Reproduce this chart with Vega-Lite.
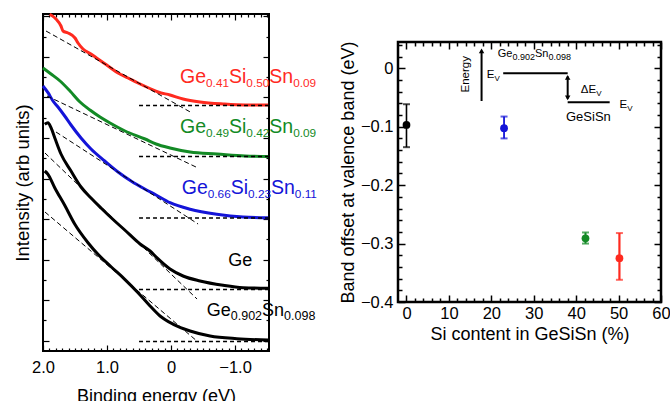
{
  "$schema": "https://vega.github.io/schema/vega-lite/v6.json",
  "padding": {"left": 12, "top": 7, "right": 5, "bottom": 0},
  "config": {
    "font": "Liberation Sans",
    "view": {"stroke": "black", "strokeWidth": 2},
    "axis": {"grid": false, "domain": false, "labelColor": "black", "titleColor": "black", "tickColor": "black", "titleFontWeight": "normal", "labelFlush": false, "labelOverlap": false}
  },
  "datasets": {
    "curves": [
      {"s": "red", "be": 1.895, "i": 336.7}, {"s": "red", "be": 1.797, "i": 332}, {"s": "red", "be": 1.719, "i": 325}, {"s": "red", "be": 1.6875, "i": 320}, {"s": "red", "be": 1.609, "i": 318}, {"s": "red", "be": 1.5, "i": 313}, {"s": "red", "be": 1.453, "i": 308}, {"s": "red", "be": 1.375, "i": 302}, {"s": "red", "be": 1.25, "i": 297}, {"s": "red", "be": 1.141, "i": 292}, {"s": "red", "be": 0.984, "i": 285}, {"s": "red", "be": 0.828, "i": 278}, {"s": "red", "be": 0.672, "i": 273}, {"s": "red", "be": 0.516, "i": 268}, {"s": "red", "be": 0.3125, "i": 262}, {"s": "red", "be": 0.203, "i": 259}, {"s": "red", "be": 0.016, "i": 256}, {"s": "red", "be": -0.1875, "i": 252}, {"s": "red", "be": -0.453, "i": 249}, {"s": "red", "be": -0.8125, "i": 247}, {"s": "red", "be": -1.156, "i": 246}, {"s": "red", "be": -1.516, "i": 246},
      {"s": "green", "be": 2.0, "i": 283}, {"s": "green", "be": 1.875, "i": 277}, {"s": "green", "be": 1.734, "i": 270}, {"s": "green", "be": 1.578, "i": 260}, {"s": "green", "be": 1.422, "i": 249}, {"s": "green", "be": 1.266, "i": 241}, {"s": "green", "be": 1.109, "i": 234}, {"s": "green", "be": 0.953, "i": 228}, {"s": "green", "be": 0.719, "i": 220}, {"s": "green", "be": 0.406, "i": 212}, {"s": "green", "be": 0.234, "i": 207}, {"s": "green", "be": 0.016, "i": 203}, {"s": "green", "be": -0.297, "i": 199}, {"s": "green", "be": -0.719, "i": 197}, {"s": "green", "be": -1.156, "i": 195}, {"s": "green", "be": -1.516, "i": 194.5},
      {"s": "blue", "be": 2.0, "i": 265}, {"s": "blue", "be": 1.922, "i": 258.3}, {"s": "blue", "be": 1.844, "i": 250}, {"s": "blue", "be": 1.766, "i": 244}, {"s": "blue", "be": 1.661, "i": 235}, {"s": "blue", "be": 1.5625, "i": 226}, {"s": "blue", "be": 1.406, "i": 213}, {"s": "blue", "be": 1.25, "i": 202}, {"s": "blue", "be": 1.036, "i": 190}, {"s": "blue", "be": 0.828, "i": 179}, {"s": "blue", "be": 0.625, "i": 170}, {"s": "blue", "be": 0.411, "i": 162}, {"s": "blue", "be": 0.234, "i": 156}, {"s": "blue", "be": 0.016, "i": 148.3}, {"s": "blue", "be": -0.297, "i": 141.7}, {"s": "blue", "be": -0.714, "i": 136.7}, {"s": "blue", "be": -1.125, "i": 134}, {"s": "blue", "be": -1.516, "i": 133.3},
      {"s": "ge", "be": 1.973, "i": 226.7}, {"s": "ge", "be": 1.922, "i": 228.3}, {"s": "ge", "be": 1.875, "i": 223.3}, {"s": "ge", "be": 1.817, "i": 213.3}, {"s": "ge", "be": 1.719, "i": 197}, {"s": "ge", "be": 1.5625, "i": 180}, {"s": "ge", "be": 1.406, "i": 164}, {"s": "ge", "be": 1.25, "i": 153}, {"s": "ge", "be": 1.094, "i": 143}, {"s": "ge", "be": 0.88, "i": 130}, {"s": "ge", "be": 0.723, "i": 121}, {"s": "ge", "be": 0.484, "i": 107}, {"s": "ge", "be": 0.328, "i": 100}, {"s": "ge", "be": 0.223, "i": 93.3}, {"s": "ge", "be": 0.016, "i": 82}, {"s": "ge", "be": -0.1875, "i": 75}, {"s": "ge", "be": -0.453, "i": 70}, {"s": "ge", "be": -0.8125, "i": 65.7}, {"s": "ge", "be": -1.125, "i": 63.3}, {"s": "ge", "be": -1.516, "i": 62.7},
      {"s": "gesn", "be": 1.973, "i": 180}, {"s": "gesn", "be": 1.922, "i": 176.7}, {"s": "gesn", "be": 1.817, "i": 163.3}, {"s": "gesn", "be": 1.661, "i": 145.7}, {"s": "gesn", "be": 1.505, "i": 127}, {"s": "gesn", "be": 1.297, "i": 108.3}, {"s": "gesn", "be": 1.141, "i": 96.7}, {"s": "gesn", "be": 0.933, "i": 84}, {"s": "gesn", "be": 0.723, "i": 71.7}, {"s": "gesn", "be": 0.516, "i": 58.3}, {"s": "gesn", "be": 0.328, "i": 45}, {"s": "gesn", "be": 0.172, "i": 35}, {"s": "gesn", "be": -0.036, "i": 26.7}, {"s": "gesn", "be": -0.297, "i": 20}, {"s": "gesn", "be": -0.609, "i": 15}, {"s": "gesn", "be": -1.027, "i": 12.3}, {"s": "gesn", "be": -1.516, "i": 11}
    ],
    "dashes": [
      {"id": "t_red", "k": "t", "be": 1.953, "i": 320}, {"id": "t_red", "k": "t", "be": -0.328, "i": 238},
      {"id": "t_green", "k": "t", "be": 1.9375, "i": 255}, {"id": "t_green", "k": "t", "be": -0.422, "i": 183},
      {"id": "t_blue", "k": "t", "be": 1.797, "i": 219}, {"id": "t_blue", "k": "t", "be": -0.422, "i": 127},
      {"id": "t_ge", "k": "t", "be": 1.969, "i": 198}, {"id": "t_ge", "k": "t", "be": -0.406, "i": 52},
      {"id": "t_gesn", "k": "t", "be": 1.969, "i": 139}, {"id": "t_gesn", "k": "t", "be": -0.422, "i": 9},
      {"id": "b_red", "k": "b", "be": 0.5, "i": 245.5}, {"id": "b_red", "k": "b", "be": -1.53, "i": 245.5},
      {"id": "b_green", "k": "b", "be": 0.5, "i": 194.5}, {"id": "b_green", "k": "b", "be": -1.53, "i": 194.5},
      {"id": "b_blue", "k": "b", "be": 0.5, "i": 133}, {"id": "b_blue", "k": "b", "be": -1.53, "i": 133},
      {"id": "b_ge", "k": "b", "be": 0.5, "i": 61.5}, {"id": "b_ge", "k": "b", "be": -1.53, "i": 61.5},
      {"id": "b_gesn", "k": "b", "be": 0.5, "i": 9.5}, {"id": "b_gesn", "k": "b", "be": -1.53, "i": 9.5}
    ],
    "labels": [
      {"s": "red", "be": -0.1406, "i": 268, "a": "Ge", "b": "0.41", "c": "Si", "d": "0.50", "e": "Sn", "f": "0.09"},
      {"s": "green", "be": -0.1406, "i": 217.7, "a": "Ge", "b": "0.49", "c": "Si", "d": "0.42", "e": "Sn", "f": "0.09"},
      {"s": "blue", "be": -0.167, "i": 156.7, "a": "Ge", "b": "0.66", "c": "Si", "d": "0.23", "e": "Sn", "f": "0.11"}
    ],
    "blabels": [
      {"be": -0.895, "i": 85, "a": "Ge"},
      {"be": -0.558, "i": 35, "a": "Ge", "b": "0.902", "c": "Sn", "d": "0.098"}
    ],
    "pts": [
      {"s": "ge", "si": 0, "v": -0.097, "lo": -0.135, "hi": -0.0615},
      {"s": "blue", "si": 23.0, "v": -0.1026, "lo": -0.12, "hi": -0.0826},
      {"s": "green", "si": 42.2, "v": -0.291, "lo": -0.3, "hi": -0.281},
      {"s": "red", "si": 50.2, "v": -0.325, "lo": -0.362, "hi": -0.282}
    ],
    "inset": [
      {"g": "energy", "x": 17.7, "y": -0.056}, {"g": "energy", "x": 17.7, "y": 0.03},
      {"g": "upper", "x": 22.8, "y": -0.0085}, {"g": "upper", "x": 38.0, "y": -0.0085},
      {"g": "dv", "x": 38.0, "y": -0.014}, {"g": "dv", "x": 38.0, "y": -0.052},
      {"g": "lower", "x": 38.0, "y": -0.058}, {"g": "lower", "x": 47.9, "y": -0.058}
    ],
    "heads": [
      {"x": 17.7, "y": 0.03, "dir": "up"},
      {"x": 38.0, "y": -0.0155, "dir": "up"},
      {"x": 38.0, "y": -0.0505, "dir": "down"}
    ],
    "itext": [
      {"k": "gesn", "x": 21.5, "y": 0.0188, "a": "Ge", "b": "0.902", "c": "Sn", "d": "0.098"},
      {"k": "ev", "x": 18.9, "y": -0.0159, "a": "E", "b": "V"},
      {"k": "ev", "x": 50.2, "y": -0.0672, "a": "E", "b": "V"},
      {"k": "dev", "x": 41.1, "y": -0.0415, "a": "ΔE", "b": "V"},
      {"k": "gesisn", "x": 37.6, "y": -0.09, "a": "GeSiSn"},
      {"k": "energy", "x": 14.0, "y": -0.0103, "a": "Energy"}
    ]
  },
  "resolve": {"scale": {"x": "independent", "y": "independent"}},
  "spacing": 20,
  "hconcat": [
    {
      "width": 226,
      "height": 337,
      "view": {"stroke": "black", "strokeWidth": 2},
      "resolve": {"axis": {"x": "independent", "y": "independent"}},
      "layer": [
        {
          "data": {"name": "curves"},
          "mark": {"type": "line", "strokeWidth": 3, "interpolate": "monotone"},
          "encoding": {
            "x": {"field": "be", "type": "quantitative", "scale": {"domain": [-1.53, 2.0], "reverse": true, "nice": false, "zero": false},
              "axis": {"orient": "bottom", "values": [-1.5,-1.4,-1.3,-1.2,-1.1,-1,-0.9,-0.8,-0.7,-0.6,-0.5,-0.4,-0.3,-0.2,-0.1,0,0.1,0.2,0.3,0.4,0.5,0.6,0.7,0.8,0.9,1,1.1,1.2,1.3,1.4,1.5,1.6,1.7,1.8,1.9,2],
                "labelExpr": "abs(datum.value-round(datum.value))<0.001 ? (abs(datum.value)<0.001 ? '0' : format(datum.value,'.1f')) : ''",
                "tickSize": {"condition": {"test": "abs(datum.value-round(datum.value))<0.001", "value": -6}, "value": -3},
                "tickWidth": 1.2, "labelFontSize": 16.5, "labelPadding": 14, "title": "Binding energy (eV)", "titleFontSize": 18, "titlePadding": 9}},
            "y": {"field": "i", "type": "quantitative", "scale": {"domain": [0, 337], "nice": false, "zero": false},
              "axis": {"orient": "left", "values": [10.5,30.75,51,71.25,91.5,111.75,132,152.25,172.5,192.75,213,233.25,253.5,273.75,294,314.25,334.5],
                "labels": false,
                "tickSize": {"condition": {"test": "round((datum.value-10.5)/20.25)%2==0", "value": -6}, "value": -3},
                "tickWidth": 1.2, "title": "Intensity (arb units)", "titleFontSize": 18.5, "titlePadding": 10}},
            "color": {"field": "s", "type": "nominal", "scale": {"domain": ["red","green","blue","ge","gesn"], "range": ["#ff2a1f","#138a25","#1414d8","#000000","#000000"]}, "legend": null}
          }
        },
        {
          "data": {"name": "dashes"},
          "transform": [{"filter": "datum.k == 't'"}],
          "mark": {"type": "line", "color": "black", "strokeWidth": 1, "strokeDash": [5, 3]},
          "encoding": {
            "x": {"field": "be", "type": "quantitative", "scale": {"domain": [-1.53, 2.0], "reverse": true, "nice": false, "zero": false},
              "axis": {"orient": "top", "values": [-1.5,-1.4,-1.3,-1.2,-1.1,-1,-0.9,-0.8,-0.7,-0.6,-0.5,-0.4,-0.3,-0.2,-0.1,0,0.1,0.2,0.3,0.4,0.5,0.6,0.7,0.8,0.9,1,1.1,1.2,1.3,1.4,1.5,1.6,1.7,1.8,1.9,2],
                "labels": false, "title": null,
                "tickSize": {"condition": {"test": "abs(datum.value-round(datum.value))<0.001", "value": -6}, "value": -3},
                "tickWidth": 1.2}},
            "y": {"field": "i", "type": "quantitative", "scale": {"domain": [0, 337], "nice": false, "zero": false},
              "axis": {"orient": "right", "values": [10.5,30.75,51,71.25,91.5,111.75,132,152.25,172.5,192.75,213,233.25,253.5,273.75,294,314.25,334.5],
                "labels": false, "title": null,
                "tickSize": {"condition": {"test": "round((datum.value-10.5)/20.25)%2==0", "value": -6}, "value": -3},
                "tickWidth": 1.2}},
            "detail": {"field": "id"}
          }
        },
        {
          "data": {"name": "dashes"},
          "transform": [{"filter": "datum.k == 'b'"}],
          "mark": {"type": "line", "color": "black", "strokeWidth": 1.4, "strokeDash": [4, 3]},
          "encoding": {
            "x": {"field": "be", "type": "quantitative", "scale": {"domain": [-1.53, 2.0], "reverse": true, "nice": false, "zero": false}, "axis": null},
            "y": {"field": "i", "type": "quantitative", "scale": {"domain": [0, 337], "nice": false, "zero": false}, "axis": null},
            "detail": {"field": "id"}
          }
        },
        {
          "data": {"name": "labels"},
          "mark": {"type": "text", "align": "left", "baseline": "alphabetic", "fontSize": 19.5, "dx": 0},
          "encoding": {
            "x": {"field": "be", "type": "quantitative", "axis": null}, "y": {"field": "i", "type": "quantitative", "axis": null},
            "text": {"field": "a"}, "color": {"field": "s", "type": "nominal", "legend": null}
          }
        },
        {
          "data": {"name": "labels"},
          "mark": {"type": "text", "align": "left", "baseline": "alphabetic", "fontSize": 11.8, "dx": 26, "dy": 4},
          "encoding": {
            "x": {"field": "be", "type": "quantitative", "axis": null}, "y": {"field": "i", "type": "quantitative", "axis": null},
            "text": {"field": "b"}, "color": {"field": "s", "type": "nominal", "legend": null}
          }
        },
        {
          "data": {"name": "labels"},
          "mark": {"type": "text", "align": "left", "baseline": "alphabetic", "fontSize": 19.5, "dx": 49},
          "encoding": {
            "x": {"field": "be", "type": "quantitative", "axis": null}, "y": {"field": "i", "type": "quantitative", "axis": null},
            "text": {"field": "c"}, "color": {"field": "s", "type": "nominal", "legend": null}
          }
        },
        {
          "data": {"name": "labels"},
          "mark": {"type": "text", "align": "left", "baseline": "alphabetic", "fontSize": 11.8, "dx": 66.3, "dy": 4},
          "encoding": {
            "x": {"field": "be", "type": "quantitative", "axis": null}, "y": {"field": "i", "type": "quantitative", "axis": null},
            "text": {"field": "d"}, "color": {"field": "s", "type": "nominal", "legend": null}
          }
        },
        {
          "data": {"name": "labels"},
          "mark": {"type": "text", "align": "left", "baseline": "alphabetic", "fontSize": 19.5, "dx": 89.3},
          "encoding": {
            "x": {"field": "be", "type": "quantitative", "axis": null}, "y": {"field": "i", "type": "quantitative", "axis": null},
            "text": {"field": "e"}, "color": {"field": "s", "type": "nominal", "legend": null}
          }
        },
        {
          "data": {"name": "labels"},
          "mark": {"type": "text", "align": "left", "baseline": "alphabetic", "fontSize": 11.8, "dx": 113.1, "dy": 4},
          "encoding": {
            "x": {"field": "be", "type": "quantitative", "axis": null}, "y": {"field": "i", "type": "quantitative", "axis": null},
            "text": {"field": "f"}, "color": {"field": "s", "type": "nominal", "legend": null}
          }
        },
        {
          "data": {"name": "blabels"},
          "mark": {"type": "text", "align": "left", "baseline": "alphabetic", "fontSize": 18, "color": "black"},
          "encoding": {
            "x": {"field": "be", "type": "quantitative", "axis": null}, "y": {"field": "i", "type": "quantitative", "axis": null},
            "text": {"field": "a"}
          }
        },
        {
          "data": {"name": "blabels"},
          "transform": [{"filter": "datum.b != null"}],
          "mark": {"type": "text", "align": "left", "baseline": "alphabetic", "fontSize": 12.5, "dx": 24, "dy": 4, "color": "black"},
          "encoding": {
            "x": {"field": "be", "type": "quantitative", "axis": null}, "y": {"field": "i", "type": "quantitative", "axis": null},
            "text": {"field": "b"}
          }
        },
        {
          "data": {"name": "blabels"},
          "transform": [{"filter": "datum.b != null"}],
          "mark": {"type": "text", "align": "left", "baseline": "alphabetic", "fontSize": 18, "dx": 55.3, "color": "black"},
          "encoding": {
            "x": {"field": "be", "type": "quantitative", "axis": null}, "y": {"field": "i", "type": "quantitative", "axis": null},
            "text": {"field": "c"}
          }
        },
        {
          "data": {"name": "blabels"},
          "transform": [{"filter": "datum.b != null"}],
          "mark": {"type": "text", "align": "left", "baseline": "alphabetic", "fontSize": 12.5, "dx": 77.3, "dy": 4, "color": "black"},
          "encoding": {
            "x": {"field": "be", "type": "quantitative", "axis": null}, "y": {"field": "i", "type": "quantitative", "axis": null},
            "text": {"field": "d"}
          }
        }
      ]
    },
    {
      "spacing": 10,
      "vconcat": [
        {
          "width": 263,
          "height": 11,
          "view": {"stroke": null},
          "data": {"values": [{"t": ""}]},
          "mark": {"type": "text"},
          "encoding": {"text": {"field": "t"}}
        },
        {
          "width": 263,
          "height": 260,
          "view": {"stroke": "black", "strokeWidth": 2.5},
          "resolve": {"axis": {"x": "independent", "y": "independent"}},
          "layer": [
            {
              "data": {"name": "pts"},
              "mark": {"type": "rule"},
              "encoding": {
                "x": {"field": "si", "type": "quantitative", "scale": {"domain": [-2, 60], "nice": false, "zero": false},
                  "axis": {"orient": "bottom", "values": [0,2,4,6,8,10,12,14,16,18,20,22,24,26,28,30,32,34,36,38,40,42,44,46,48,50,52,54,56,58,60],
                    "labelExpr": "datum.value % 10 == 0 ? datum.label : ''",
                    "tickSize": {"condition": {"test": "datum.value % 10 == 0", "value": -7}, "value": -4},
                    "tickWidth": 1.5, "labelFontSize": 16.5, "labelPadding": 10, "title": "Si content in GeSiSn (%)", "titleFontSize": 18, "titlePadding": 1}},
                "y": {"field": "lo", "type": "quantitative", "scale": {"domain": [-0.4, 0.045], "nice": false, "zero": false},
                  "axis": {"orient": "left", "values": [-0.4,-0.38,-0.36,-0.34,-0.32,-0.3,-0.28,-0.26,-0.24,-0.22,-0.2,-0.18,-0.16,-0.14,-0.12,-0.1,-0.08,-0.06,-0.04,-0.02,0,0.02,0.04],
                    "labelExpr": "abs(datum.value*10-round(datum.value*10))<0.001 ? (abs(datum.value)<0.0001 ? '0' : format(datum.value,'.1f')) : ''",
                    "tickSize": {"condition": {"test": "abs(datum.value*10-round(datum.value*10))<0.001", "value": -7}, "value": -4},
                    "tickWidth": 1.5, "labelFontSize": 16.5, "labelPadding": 12, "title": "Band offset at valence band (eV)", "titleFontSize": 18, "titlePadding": 3}},
                "y2": {"field": "hi"},
                "color": {"field": "s", "type": "nominal", "scale": {"domain": ["red","green","blue","ge","gesn"], "range": ["#ff2a1f","#138a25","#1414d8","#000000","#000000"]}, "legend": null},
                "strokeWidth": {"field": "s", "type": "nominal", "scale": {"domain": ["ge","blue","green","red"], "range": [1.6, 2.2, 3, 3.2]}, "legend": null}
              }
            },
            {
              "data": {"name": "pts"},
              "mark": {"type": "tick", "orient": "horizontal", "size": 7, "thickness": 2},
              "encoding": {
                "x": {"field": "si", "type": "quantitative", "scale": {"domain": [-2, 60], "nice": false, "zero": false},
                  "axis": {"orient": "top", "values": [0,2,4,6,8,10,12,14,16,18,20,22,24,26,28,30,32,34,36,38,40,42,44,46,48,50,52,54,56,58,60],
                    "labels": false, "title": null,
                    "tickSize": {"condition": {"test": "datum.value % 10 == 0", "value": -7}, "value": -4},
                    "tickWidth": 1.5}},
                "y": {"field": "lo", "type": "quantitative", "scale": {"domain": [-0.4, 0.045], "nice": false, "zero": false},
                  "axis": {"orient": "right", "values": [-0.4,-0.38,-0.36,-0.34,-0.32,-0.3,-0.28,-0.26,-0.24,-0.22,-0.2,-0.18,-0.16,-0.14,-0.12,-0.1,-0.08,-0.06,-0.04,-0.02,0,0.02,0.04],
                    "labels": false, "title": null,
                    "tickSize": {"condition": {"test": "abs(datum.value*10-round(datum.value*10))<0.001", "value": -7}, "value": -4},
                    "tickWidth": 1.5}},
                "color": {"field": "s", "type": "nominal", "legend": null}
              }
            },
            {
              "data": {"name": "pts"},
              "mark": {"type": "tick", "orient": "horizontal", "size": 7, "thickness": 2},
              "encoding": {
                "x": {"field": "si", "type": "quantitative", "axis": null},
                "y": {"field": "hi", "type": "quantitative", "axis": null},
                "color": {"field": "s", "type": "nominal", "legend": null}
              }
            },
            {
              "data": {"name": "pts"},
              "mark": {"type": "circle", "size": 60, "opacity": 1},
              "encoding": {
                "x": {"field": "si", "type": "quantitative", "axis": null},
                "y": {"field": "v", "type": "quantitative", "axis": null},
                "color": {"field": "s", "type": "nominal", "legend": null}
              }
            },
            {
              "data": {"name": "inset"},
              "mark": {"type": "line", "color": "black", "strokeWidth": 2},
              "encoding": {
                "x": {"field": "x", "type": "quantitative", "axis": null},
                "y": {"field": "y", "type": "quantitative", "axis": null},
                "detail": {"field": "g"}
              }
            },
            {
              "data": {"name": "heads"},
              "mark": {"type": "point", "filled": true, "color": "black", "size": 30, "opacity": 1},
              "encoding": {
                "x": {"field": "x", "type": "quantitative", "axis": null},
                "y": {"field": "y", "type": "quantitative", "axis": null},
                "shape": {"field": "dir", "type": "nominal", "scale": {"domain": ["up", "down"], "range": ["triangle-up", "triangle-down"]}, "legend": null}
              }
            },
            {
              "data": {"name": "itext"},
              "transform": [{"filter": "datum.k == 'gesn'"}],
              "mark": {"type": "text", "align": "left", "baseline": "alphabetic", "fontSize": 11, "color": "black"},
              "encoding": {"x": {"field": "x", "type": "quantitative", "axis": null}, "y": {"field": "y", "type": "quantitative", "axis": null}, "text": {"field": "a"}}
            },
            {
              "data": {"name": "itext"},
              "transform": [{"filter": "datum.k == 'gesn'"}],
              "mark": {"type": "text", "align": "left", "baseline": "alphabetic", "fontSize": 9, "dx": 14.7, "dy": 3, "color": "black"},
              "encoding": {"x": {"field": "x", "type": "quantitative", "axis": null}, "y": {"field": "y", "type": "quantitative", "axis": null}, "text": {"field": "b"}}
            },
            {
              "data": {"name": "itext"},
              "transform": [{"filter": "datum.k == 'gesn'"}],
              "mark": {"type": "text", "align": "left", "baseline": "alphabetic", "fontSize": 11, "dx": 37.2, "color": "black"},
              "encoding": {"x": {"field": "x", "type": "quantitative", "axis": null}, "y": {"field": "y", "type": "quantitative", "axis": null}, "text": {"field": "c"}}
            },
            {
              "data": {"name": "itext"},
              "transform": [{"filter": "datum.k == 'gesn'"}],
              "mark": {"type": "text", "align": "left", "baseline": "alphabetic", "fontSize": 9, "dx": 50.7, "dy": 3, "color": "black"},
              "encoding": {"x": {"field": "x", "type": "quantitative", "axis": null}, "y": {"field": "y", "type": "quantitative", "axis": null}, "text": {"field": "d"}}
            },
            {
              "data": {"name": "itext"},
              "transform": [{"filter": "datum.k == 'ev' || datum.k == 'dev'"}],
              "mark": {"type": "text", "align": "left", "baseline": "alphabetic", "fontSize": 11.5, "color": "black"},
              "encoding": {"x": {"field": "x", "type": "quantitative", "axis": null}, "y": {"field": "y", "type": "quantitative", "axis": null}, "text": {"field": "a"}}
            },
            {
              "data": {"name": "itext"},
              "transform": [{"filter": "datum.k == 'ev'"}],
              "mark": {"type": "text", "align": "left", "baseline": "alphabetic", "fontSize": 8, "dx": 7.9, "dy": 3, "color": "black"},
              "encoding": {"x": {"field": "x", "type": "quantitative", "axis": null}, "y": {"field": "y", "type": "quantitative", "axis": null}, "text": {"field": "b"}}
            },
            {
              "data": {"name": "itext"},
              "transform": [{"filter": "datum.k == 'dev'"}],
              "mark": {"type": "text", "align": "left", "baseline": "alphabetic", "fontSize": 8, "dx": 15.5, "dy": 3, "color": "black"},
              "encoding": {"x": {"field": "x", "type": "quantitative", "axis": null}, "y": {"field": "y", "type": "quantitative", "axis": null}, "text": {"field": "b"}}
            },
            {
              "data": {"name": "itext"},
              "transform": [{"filter": "datum.k == 'gesisn'"}],
              "mark": {"type": "text", "align": "left", "baseline": "alphabetic", "fontSize": 13, "color": "black"},
              "encoding": {"x": {"field": "x", "type": "quantitative", "axis": null}, "y": {"field": "y", "type": "quantitative", "axis": null}, "text": {"field": "a"}}
            },
            {
              "data": {"name": "itext"},
              "transform": [{"filter": "datum.k == 'energy'"}],
              "mark": {"type": "text", "align": "center", "baseline": "middle", "fontSize": 11.5, "angle": 270, "color": "black"},
              "encoding": {"x": {"field": "x", "type": "quantitative", "axis": null}, "y": {"field": "y", "type": "quantitative", "axis": null}, "text": {"field": "a"}}
            }
          ]
        }
      ]
    }
  ]
}
